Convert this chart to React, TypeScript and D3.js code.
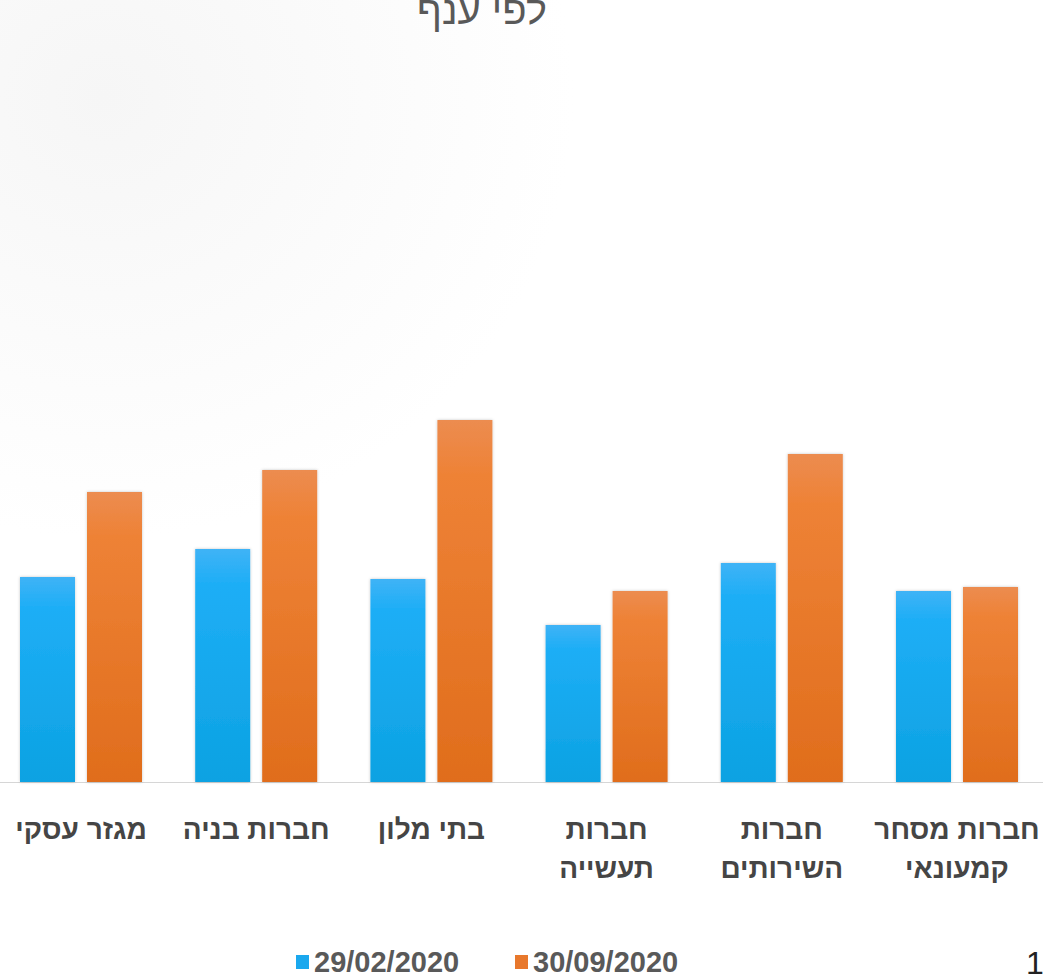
import React from "react";
import * as d3 from "d3";

const categories: string[][] = [
  ["מגזר עסקי"],
  ["חברות בניה"],
  ["בתי מלון"],
  ["חברות", "תעשייה"],
  ["חברות", "השירותים"],
  ["חברות מסחר", "קמעונאי"],
];
const seriesNames = ["29/02/2020", "30/09/2020"];
const feb2020 = [205, 233, 203, 157, 219, 191];
const sep2020 = [290, 312, 362, 191, 328, 195];
const title = "לפי ענף";

const W = 1043;
const H = 978;

export default function App() {
  const baseY = 782;
  const x = d3
    .scaleBand<number>()
    .domain(d3.range(categories.length))
    .range([-6.6, 1044.6])
    .paddingInner(0)
    .paddingOuter(0);
  const inner = d3
    .scaleBand<number>()
    .domain([0, 1])
    .range([26.6, 148.6])
    .paddingInner(0.179);
  const y = d3.scaleLinear().domain([0, 400]).range([baseY, baseY - 400]);
  const series = [feb2020, sep2020];
  const fills = ["url(#gBlue)", "url(#gOrange)"];
  const legendColors = ["#1aa8ee", "#e8782c"];

  return (
    <svg
      width={W}
      height={H}
      style={{ position: "absolute", left: 0, top: 0, background: "#fff" }}
      fontFamily="'Liberation Sans', Arial, sans-serif"
    >
      <defs>
        <linearGradient id="gBlue" x1="0" y1="0" x2="0" y2="1">
          <stop offset="0" stopColor="#3fb3f6" />
          <stop offset="0.15" stopColor="#1eaef6" />
          <stop offset="1" stopColor="#0ca2e2" />
        </linearGradient>
        <linearGradient id="gOrange" x1="0" y1="0" x2="0" y2="1">
          <stop offset="0" stopColor="#ec8c50" />
          <stop offset="0.15" stopColor="#ee8236" />
          <stop offset="1" stopColor="#e06d1c" />
        </linearGradient>
        <radialGradient id="bg" cx="0.1" cy="0.1" r="0.45">
          <stop offset="0" stopColor="#f6f6f6" />
          <stop offset="1" stopColor="#ffffff" />
        </radialGradient>
        <filter id="sh" x="-20%" y="-5%" width="140%" height="110%">
          <feDropShadow dx="0" dy="0" stdDeviation="1.5" floodColor="#000" floodOpacity="0.22" />
        </filter>
      </defs>
      <rect x={0} y={0} width={W} height={H} fill="url(#bg)" />

      <text x={482} y={24} textAnchor="middle" fontSize={40} fill="#595959">
        {title}
      </text>

      <line x1={0} x2={W} y1={baseY + 0.5} y2={baseY + 0.5} stroke="#d6d6d6" strokeWidth={1.2} />

      {categories.map((c, i) => (
        <g key={i} transform={`translate(${x(i)},0)`}>
          {series.map((s, k) => (
            <rect
              key={k}
              x={inner(k)}
              y={y(s[i])}
              width={inner.bandwidth()}
              height={baseY - y(s[i])}
              fill={fills[k]}
              filter="url(#sh)"
            />
          ))}
          {c.map((line, j) => (
            <text
              key={j}
              x={x.bandwidth() / 2}
              y={839 + j * 39}
              textAnchor="middle"
              fontSize={28}
              fontWeight="bold"
              fill="#454545"
            >
              {line}
            </text>
          ))}
        </g>
      ))}

      {seriesNames.map((n, k) => (
        <g key={n} transform={`translate(${296 + k * 219},0)`}>
          <rect x={0} y={955} width={13} height={14} fill={legendColors[k]} />
          <text x={18} y={972} fontSize={29} fontWeight="bold" fill="#595959">
            {n}
          </text>
        </g>
      ))}

      <text x={1026} y={974} fontSize={32} fill="#222">1</text>
    </svg>
  );
}
